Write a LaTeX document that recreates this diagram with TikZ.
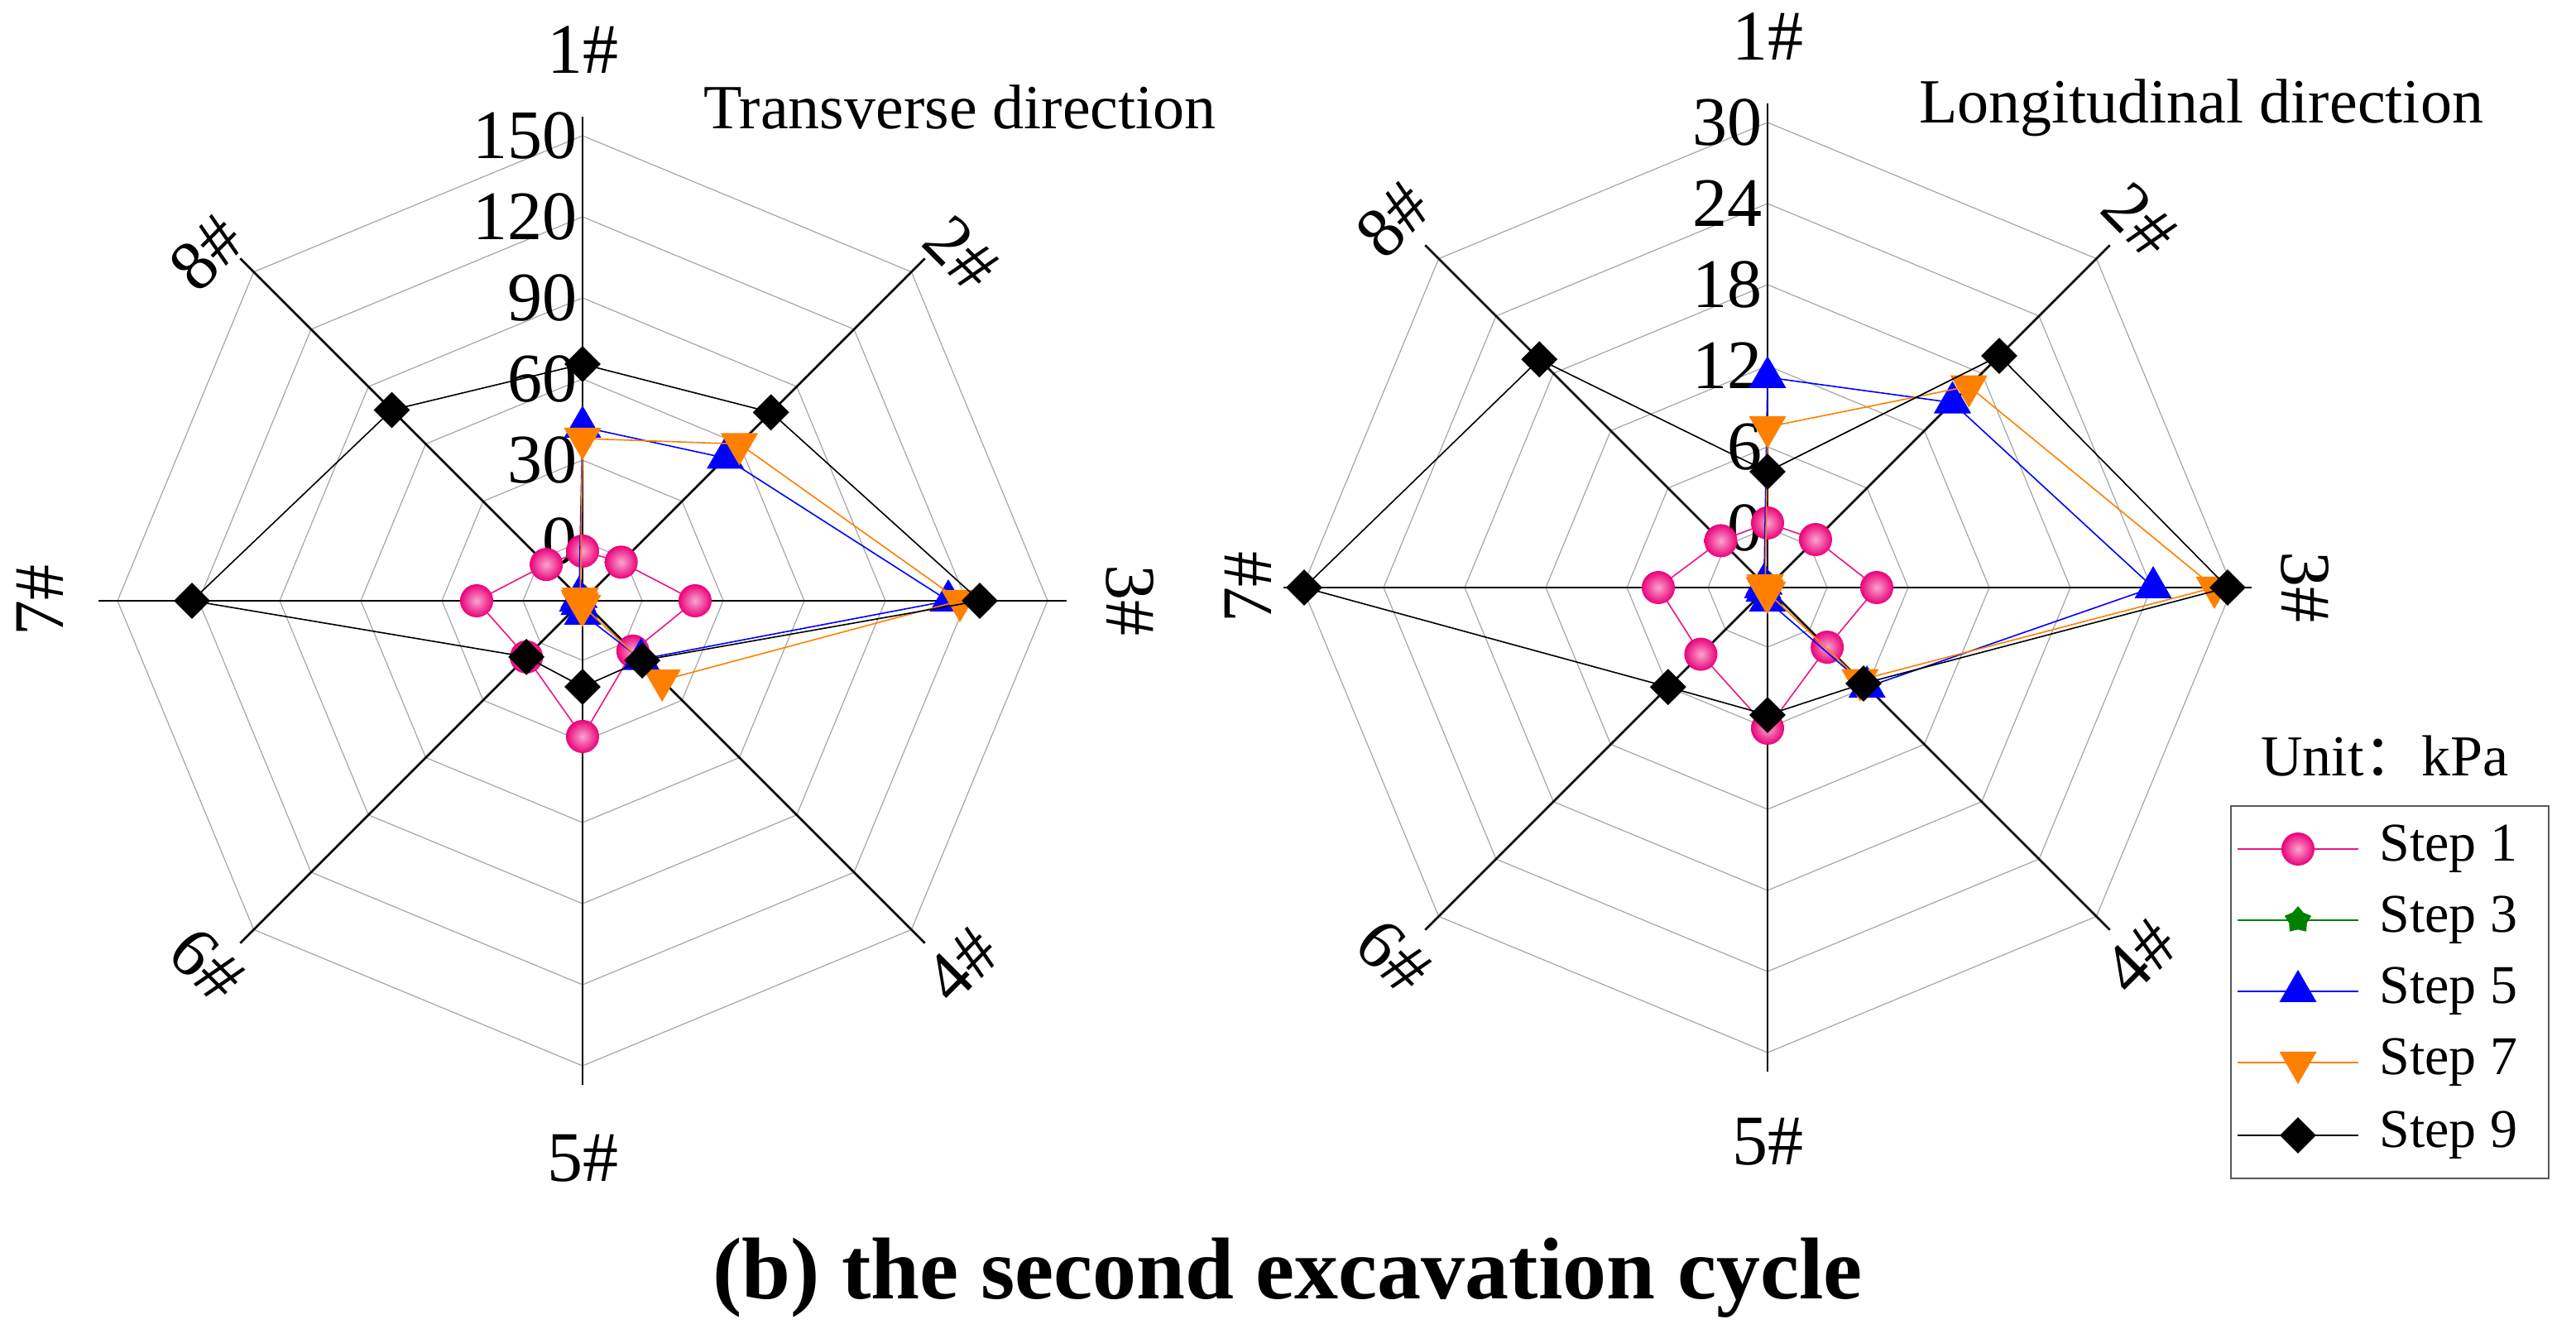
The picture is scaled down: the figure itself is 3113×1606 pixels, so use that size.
\documentclass[tikz,border=0pt]{standalone}
\usepackage{fontspec}
\setmainfont{Liberation Serif}
\newfontfamily\cjk{Noto Sans CJK SC}
\usetikzlibrary{shapes.geometric}
\definecolor{mpink}{RGB}{240,20,130}
\definecolor{mball}{RGB}{235,0,120}
\definecolor{mblue}{RGB}{0,0,255}
\definecolor{morange}{RGB}{255,128,0}
\definecolor{mgreen}{RGB}{0,128,0}
\tikzset{
  ring/.style={draw=gray!70, line width=1.2pt},
  axis/.style={draw=black, line width=2.6pt},
  ser/.style={line width=1.6pt},
  mk1/.style={circle, minimum size=40pt, inner sep=0pt, shading=radial, inner color=mball!35!white, outer color=mball, draw=none},
  mk3/.style={star, star points=5, minimum size=34pt, inner sep=0pt, fill=mgreen},
  mk5/.style={regular polygon, regular polygon sides=3, minimum size=52pt, inner sep=0pt, fill=mblue},
  mk7/.style={regular polygon, regular polygon sides=3, shape border rotate=180, minimum size=52pt, inner sep=0pt, fill=morange},
  mk9/.style={diamond, minimum size=44pt, inner sep=0pt, fill=black},
  num/.style={font=\fontsize{84}{88}\selectfont, anchor=east, inner sep=2pt},
  lab/.style={font=\fontsize{86}{90}\selectfont, inner sep=0pt},
  ttl/.style={font=\fontsize{76}{80}\selectfont},
  leg/.style={font=\fontsize{66}{70}\selectfont, anchor=west}
}
\newcommand\radar[2]{% center x, y
  \foreach \k in {0,...,5}{
    \pgfmathsetmacro\rr{72+98*\k}
    \draw[ring] ([shift={(#1,#2)}]90:\rr)
      \foreach \a in {45,0,-45,-90,-135,180,135}{ -- ([shift={(#1,#2)}]\a:\rr)} -- cycle;
  }
  \foreach \a in {90,45,0,-45,-90,-135,180,135}
    \draw[axis] (#1,#2) -- ([shift={(#1,#2)}]\a:585);
}
\newcommand\series[6]{% name, cx, cy, color, marker, radii
  \foreach \r [count=\i] in {#6}
    \coordinate (#1\i) at ([shift={(#2,#3)}]{135-45*\i}:\r);
  \draw[ser, #4] (#11) -- (#12) -- (#13) -- (#14) -- (#15) -- (#16) -- (#17) -- (#18) -- cycle;
  \foreach \i in {1,...,8} \node[#5] (#1m\i) at (#1\i) {};
}
\begin{document}
\begin{tikzpicture}[x=1pt,y=1pt]
\useasboundingbox (0,0) rectangle (3113,1606);
% left chart
\radar{704}{880}
\foreach \v [count=\k from 0] in {0,30,60,90,120,150}
  \node[num] (ln\k) at (700,{880+72+98*\k}) {\v};
\series{lp}{704}{880}{mpink}{mk1}{60,66,136,86,164,96,128,62}
\series{lg}{704}{880}{mgreen}{mk3}{4,4,4,4,4,4,4,4}
\series{lb}{704}{880}{mblue}{mk5}{210,244,442,100,16,6,6,6}
\series{lo}{704}{880}{morange}{mk7}{196,268,456,136,6,4,4,4}
\series{lk}{704}{880}{black}{mk9}{286,322,480,102,104,96,472,326}
\node[lab] (l1) at (704,1546) {1\#};
\node[lab, rotate=-45] (l2) at (1162,1300) {2\#};
\node[lab, rotate=-90] (l3) at (1366,880) {3\#};
\node[lab, rotate=45] (l4) at (1162,440) {4\#};
\node[lab] (l5) at (704,206) {5\#};
\node[lab, rotate=-45] (l6) at (250,440) {6\#};
\node[lab, rotate=90] (l7) at (48,880) {7\#};
\node[lab, rotate=45] (l8) at (250,1300) {8\#};
\node[ttl] (lt) at (1160,1476) {Transverse direction};
% right chart
\radar{2136}{896}
\foreach \v [count=\k from 0] in {0,6,12,18,24,30}
  \node[num] (rn\k) at (2132,{896+72+98*\k}) {\v};
\series{rp}{2136}{896}{mpink}{mk1}{78,82,132,102,170,114,132,80}
\series{rg}{2136}{896}{mgreen}{mk3}{4,4,4,4,4,4,4,4}
\series{rb}{2136}{896}{mblue}{mk5}{254,316,466,170,16,6,6,6}
\series{ro}{2136}{896}{morange}{mk7}{194,344,540,158,6,4,4,4}
\series{rk}{2136}{896}{black}{mk9}{140,396,556,164,154,170,560,390}
\node[lab] (r1) at (2136,1562) {1\#};
\node[lab, rotate=-45] (r2) at (2586,1340) {2\#};
\node[lab, rotate=-90] (r3) at (2786,896) {3\#};
\node[lab, rotate=45] (r4) at (2586,450) {4\#};
\node[lab] (r5) at (2136,226) {5\#};
\node[lab, rotate=-45] (r6) at (1684,450) {6\#};
\node[lab, rotate=90] (r7) at (1508,896) {7\#};
\node[lab, rotate=45] (r8) at (1684,1340) {8\#};
\node[ttl] (rt) at (2660,1476) {Longitudinal direction};
% legend
\node[font=\fontsize{70}{74}\selectfont] (unit) at (2882,692) {Unit{\cjk ：}kPa};
\draw[gray!70!black, line width=2.5pt] (2696,632) rectangle (3080,182);
\foreach \y/\c/\m/\t in {580/mpink/mk1/Step 1, 494/mgreen/mk3/Step 3, 408/mblue/mk5/Step 5, 322/morange/mk7/Step 7, 234/black/mk9/Step 9}{
  \coordinate (la\y) at (2704,\y);
  \coordinate (lb\y) at (2850,\y);
  \draw[ser, \c] (la\y) -- (lb\y);
  \node[\m] (lm\y) at (2777,\y) {};
  \node[leg] (lt\y) at (2872,\y) {\t};
}
% caption
\node[font=\fontsize{106}{110}\selectfont\bfseries] (cap) at (1556,62) {(b) the second excavation cycle};
\end{tikzpicture}
\end{document}
